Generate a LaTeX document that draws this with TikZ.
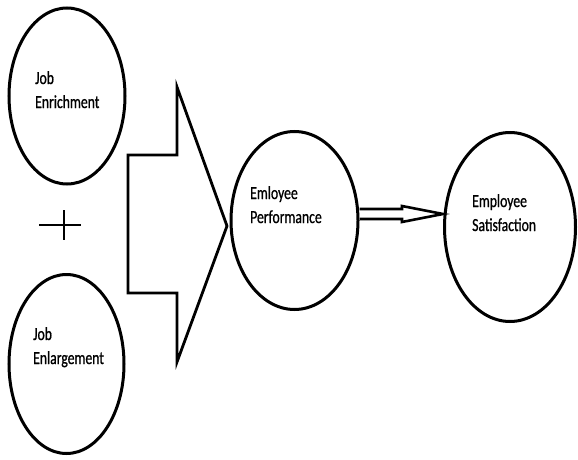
\documentclass[tikz,border=0pt]{standalone}
\usepackage{fontspec}
\setmainfont{Carlito}[FakeStretch=0.74,FakeBold=0.8]
\usetikzlibrary{shapes.geometric}

\tikzset{
  bubble/.style={draw, ellipse, line width=3pt, inner sep=0pt},
  lbl/.style={anchor=north west, align=left, inner sep=0pt, font=\fontsize{18.5}{24}\selectfont},
  thickline/.style={line width=2.8pt},
}

\begin{document}
\begin{tikzpicture}[x=1pt,y=-1pt]
\useasboundingbox (0,0) rectangle (578,460);

% the four bubbles
\node[bubble, minimum width=116pt, minimum height=176pt] (enrich) at (67,96) {};
\node[bubble, minimum width=115pt, minimum height=179pt] (enlarge) at (66.5,364) {};
\node[bubble, minimum width=127pt, minimum height=178pt] (perf) at (294.5,220.5) {};
\node[bubble, minimum width=131pt, minimum height=189pt] (satis) at (510,227) {};

\node[lbl] (enrichtxt) at (35,71) {Job\\Enrichment};
\node[lbl] (enlargetxt) at (33,327) {Job\\Enlargement};
\node[lbl] (perftxt) at (250,186) {Emloyee\\Performance};
\node[lbl] (satistxt) at (472,194) {Employee\\Satisfaction};

% plus sign
\draw[thickline] (39,225) -- (81,225);
\draw[thickline] (64,210) -- (64,240);

% big block arrow into performance
\coordinate (tip) at (227,226);
\draw[thickline] (177,155) -- (177,87) -- (tip) -- (177,362) -- (177,293)
  -- (128,293) -- (128,155) -- cycle;

% hollow arrow performance -> satisfaction
\draw[line width=2.6pt] (perf.east |- 0,209) -- (402,209) -- (402,206)
  -- (satis.west |- 0,214) -- (402,222) -- (402,219) -- (perf.east |- 0,219);
\end{tikzpicture}
\end{document}
